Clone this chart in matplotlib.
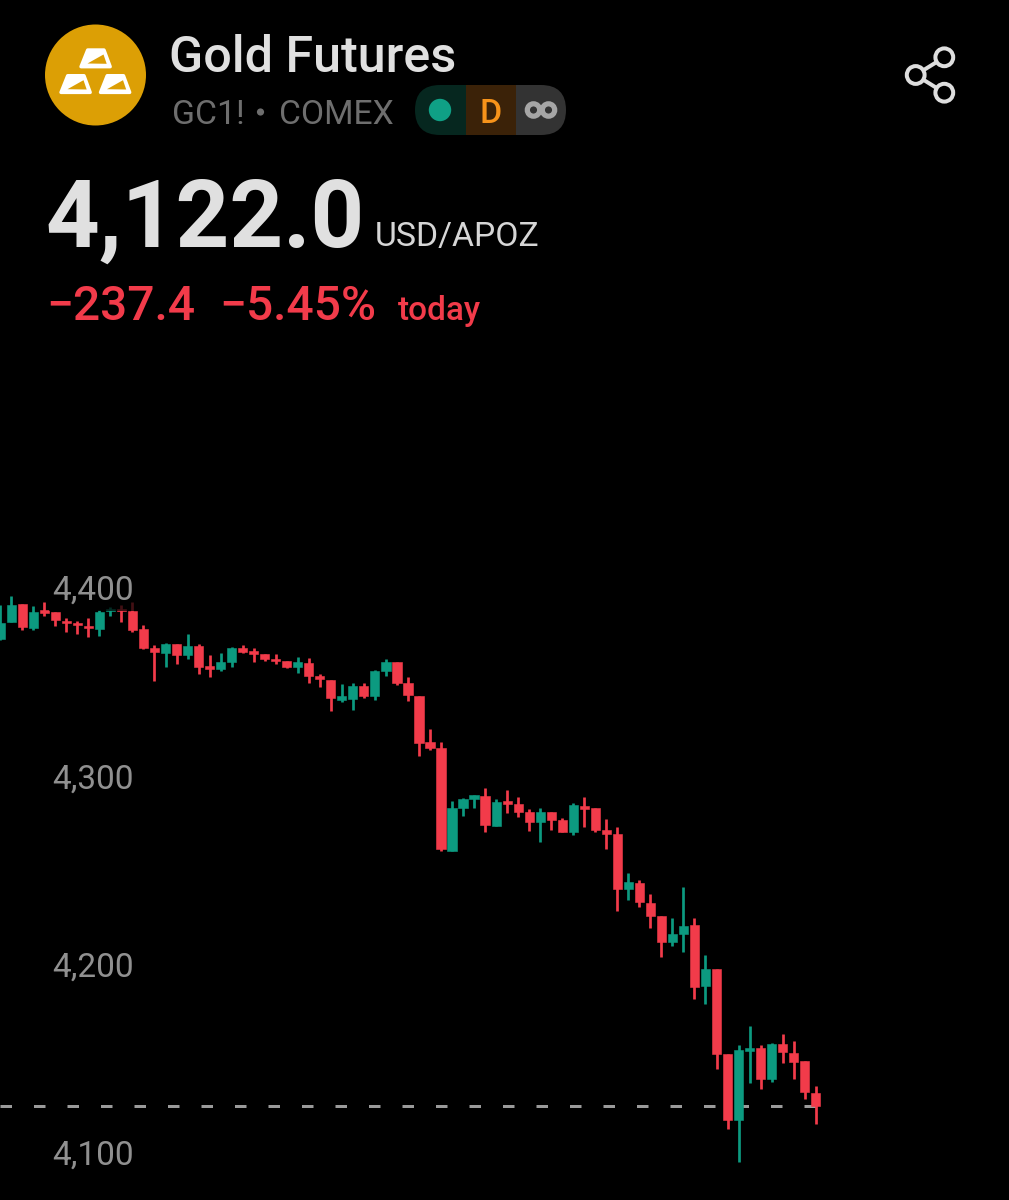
import matplotlib
matplotlib.use("Agg")
import matplotlib.pyplot as plt
from matplotlib.patches import Circle, Polygon, Rectangle, FancyBboxPatch

opens = [4369.9,4379.1,4388.5,4375.9,4385.3,4384.1,4379.6,4378.6,4376.8,4375.2,
         4384.9,4385.8,4384.6,4375.0,4365.3,4362.6,4367.2,4361.4,4366.3,4355.4,
         4353.8,4357.8,4365.1,4363.4,4361.9,4359.4,4358.1,4354.9,4357.3,4350.3,
         4348.1,4337.7,4338.1,4345.1,4339.6,4353.1,4357.7,4346.4,4339.6,4315.1,
         4312.0,4257.6,4280.4,4285.0,4286.6,4270.8,4283.9,4282.3,4278.1,4272.9,
         4278.1,4273.8,4267.3,4281.4,4280.0,4268.5,4266.2,4237.0,4240.4,4229.9,
         4223.0,4209.1,4213.5,4217.9,4185.7,4194.6,4149.5,4114.6,4151.4,4153.0,
         4136.4,4154.9,4150.2,4146.1,4129.1]
highs = [4387.9,4392.7,4388.5,4387.4,4389.5,4384.1,4380.9,4379.5,4381.2,4385.3,
         4386.7,4387.9,4389.5,4377.3,4366.7,4367.6,4367.2,4372.4,4367.1,4361.4,
         4362.3,4365.5,4366.6,4365.1,4361.9,4361.8,4358.1,4360.2,4359.7,4351.3,
         4348.1,4346.0,4346.4,4346.4,4353.4,4359.1,4357.7,4349.6,4339.6,4322.0,
         4315.4,4283.7,4285.5,4286.9,4290.7,4285.0,4289.7,4286.2,4279.5,4280.0,
         4278.1,4275.1,4282.7,4286.2,4280.0,4274.2,4270.3,4245.8,4242.1,4234.5,
         4223.0,4222.0,4238.4,4222.0,4202.0,4194.6,4149.5,4154.6,4164.7,4154.4,
         4155.5,4160.2,4156.4,4146.1,4132.8]
lows = [4369.4,4378.9,4374.7,4374.7,4382.3,4377.0,4373.8,4372.4,4371.0,4371.7,
        4382.3,4378.9,4373.8,4364.4,4347.8,4355.2,4356.5,4359.3,4351.2,4349.9,
        4353.1,4355.2,4362.3,4357.5,4358.4,4356.6,4354.5,4352.0,4346.4,4344.6,
        4331.8,4336.6,4332.2,4338.6,4337.5,4350.3,4345.3,4336.8,4307.8,4310.8,
        4257.2,4257.6,4275.9,4280.0,4267.3,4270.8,4277.7,4275.6,4268.1,4262.0,
        4268.5,4267.3,4265.9,4270.3,4267.6,4258.3,4225.7,4231.4,4227.8,4216.7,
        4201.3,4207.1,4203.8,4178.6,4176.0,4141.7,4110.0,4092.5,4134.1,4131.1,
        4134.8,4144.7,4136.4,4125.8,4112.2]
closes = [4378.6,4387.9,4376.1,4384.4,4383.9,4380.0,4378.4,4377.3,4375.6,4384.4,
          4385.7,4384.8,4374.7,4365.0,4362.8,4367.1,4361.4,4366.2,4355.2,4354.0,
          4357.5,4365.0,4363.0,4362.1,4359.1,4358.1,4355.2,4357.7,4350.4,4348.5,
          4338.6,4339.5,4345.0,4339.5,4353.1,4357.8,4346.4,4340.0,4314.9,4312.0,
          4258.3,4280.2,4285.0,4286.9,4271.3,4283.4,4282.4,4278.1,4272.9,4278.1,
          4273.8,4267.5,4281.6,4279.7,4268.5,4266.2,4237.0,4240.8,4230.3,4223.0,
          4209.1,4213.5,4217.7,4185.0,4194.9,4149.6,4114.6,4151.6,4153.0,4136.4,
          4154.9,4150.4,4145.6,4129.3,4122.0]
last_price = 4122.0
y_ticks = [4400, 4300, 4200, 4100]
y_tick_labels = ["4,400", "4,300", "4,200", "4,100"]

RED = "#F23B4A"
GREEN = "#0C9A80"
W, H = 1009, 1200
plt.rcParams["lines.scale_dashes"] = False
plt.rcParams["font.family"] = ["Roboto", "DejaVu Sans"]

fig = plt.figure(figsize=(W / 100, H / 100), dpi=100, facecolor="black")
px = 0.72  # points per pixel

# chart axes
ax = fig.add_axes([0, 0, 1, 1], facecolor="black")
ax.set_xlim(-0.018, 91.54)
ax.set_ylim(4072.1, 4709.1)
ax.axis("off")

xs = list(range(len(opens)))
ax.plot([-0.018, xs[-1]], [last_price, last_price], color="#9A9A9A", lw=3 * px,
        linestyle=(0, (11.5 * px, 22 * px)), dash_capstyle="butt", zorder=1)
colors = [RED if c < o else GREEN for o, c in zip(opens, closes)]
ax.vlines(xs, lows, highs, colors=colors, lw=2.7 * px, zorder=2)
ax.bar(xs, [abs(c - o) for o, c in zip(opens, closes)],
       bottom=[min(o, c) for o, c in zip(opens, closes)],
       width=9.2 / 11.02, color=colors, edgecolor=colors, linewidth=0.4, zorder=3)

for val, lab in zip(y_ticks, y_tick_labels):
    ax.annotate(lab, xy=(0, val), xycoords=ax.get_yaxis_transform(),
                xytext=(52.5, -8.5), textcoords="offset pixels", ha="left", va="center",
                color="#909090", fontsize=24, zorder=5,
                bbox=dict(boxstyle="square,pad=0.12", fc="black", ec="none", alpha=0.72))

# header overlay in pixel coordinates
ov = fig.add_axes([0, 0, 1, 1], facecolor="none")
ov.set_xlim(0, W)
ov.set_ylim(H, 0)
ov.axis("off")

GOLD = "#DC9F05"
ov.add_patch(Circle((95.5, 75), 50.5, fc=GOLD, ec="none"))
for dx, dy in [(0, 0), (-20, 25.7), (19.5, 25.7)]:
    ov.add_patch(Polygon([(87.7 + dx, 50 + dy), (104 + dx, 50 + dy), (110.2 + dx, 66.7 + dy), (81 + dx, 66.7 + dy)],
                         closed=True, fc="white", ec="white", lw=3.4 * px, joinstyle="round"))
    ov.add_patch(Polygon([(87.5 + dx, 63.5 + dy), (103.5 + dx, 54.5 + dy), (106.7 + dx, 63.8 + dy)],
                         closed=True, fc=GOLD, ec="none"))

ov.text(169, 53, "Gold Futures", color="#E0E0E0", fontsize=36.2, fontweight="medium", va="center_baseline", ha="left")
ov.text(171.5, 111, "GC1!", color="#6E6E6E", fontsize=24.3, va="center_baseline", ha="left")
ov.add_patch(Circle((260.5, 112), 3.6, fc="#6E6E6E", ec="none"))
ov.text(279, 111, "COMEX", color="#6E6E6E", fontsize=24.2, va="center_baseline", ha="left")

# status pill
clip = FancyBboxPatch((415, 85), 151, 50, boxstyle="round,pad=0,rounding_size=25", fc="none", ec="none")
ov.add_patch(clip)
for x0, x1, c in [(415, 465.5, "#06271F"), (465.5, 516, "#3B2208"), (516, 566, "#333333")]:
    r = Rectangle((x0, 85), x1 - x0, 50, fc=c, ec="none")
    ov.add_patch(r)
    r.set_clip_path(clip)
ov.add_patch(Circle((440, 110), 11.2, fc="#0FA085", ec="none"))
ov.text(491, 110.5, "D", color="#F7931A", fontsize=24.5, fontweight="medium", va="center_baseline", ha="center")
for cx in (533.5, 548.5):
    ov.add_patch(Circle((cx, 110), 6.2, fc="none", ec="#A6A6A6", lw=5.2 * px))

# share icon
SC = "#DEDEDE"
ov.plot([915.7, 944.3], [75, 57.3], color=SC, lw=4 * px)
ov.plot([915.7, 944.3], [75, 92.7], color=SC, lw=4 * px)
for cx, cy in [(944.3, 57.3), (915.7, 75), (944.3, 92.7)]:
    ov.add_patch(Circle((cx, cy), 8.9, fc="black", ec=SC, lw=4 * px, zorder=4))

# price block
ov.text(45, 246.5, "4,122.0", color="#E0E0E0", fontsize=67.5, fontweight="bold", va="baseline", ha="left")
ov.text(375, 246, "USD/APOZ", color="#D6D6D6", fontsize=24.3, va="baseline", ha="left")
ov.text(46, 320, "\u2212237.4", color=RED, fontsize=34.5, fontweight="medium", va="baseline", ha="left")
ov.text(219, 320, "\u22125.45%", color=RED, fontsize=34.5, fontweight="medium", va="baseline", ha="left")
ov.text(398, 320, "today", color=RED, fontsize=24, fontweight="medium", va="baseline", ha="left")

fig.savefig("out.png", dpi=100, facecolor="black")
